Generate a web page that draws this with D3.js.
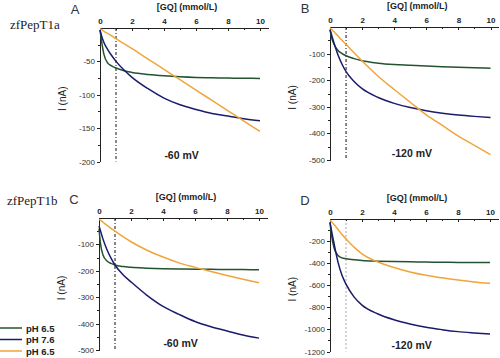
<!DOCTYPE html>
<html lang="en">
<head>
<meta charset="utf-8">
<title>zfPepT1 currents</title>
<script src="https://d3js.org/d3.v7.min.js"></script>
<style>
body { margin: 0; background: #fff; }
svg text { font-family: Arial, "Liberation Sans", sans-serif; }
svg text.serif { font-family: "Liberation Serif", "DejaVu Serif", serif; }
.xax text { font-size: 8px; font-weight: bold; fill: #222; }
.yax text { font-size: 8px; fill: #333; }
.axis path, .axis line { stroke: #222; shape-rendering: crispEdges; }
</style>
</head>
<body>
<svg width="500" height="358"></svg>
<script>
// GQ concentration grid (mmol/L), shared by all series
var conc = [0, 0.1, 0.25, 0.5, 0.75, 1, 1.5, 2, 3, 4, 5, 6, 7, 8, 9, 10];

// currents in nA
var aGreen  = [-3, -20, -40, -53, -57, -60, -64, -66.5, -69.5, -71.5, -73, -74, -74.5, -75, -75.3, -75.5];
var aBlue   = [-3, -12, -22, -33, -42, -50, -63, -74, -91, -105, -115, -122, -128, -132, -136, -139];
var aOrange = [-1, -2.5, -5, -8.5, -12, -16, -23.5, -31, -46.5, -62, -77.5, -93, -108.5, -124, -139.5, -155];

var bGreen  = [-10, -40, -65, -88, -100, -108, -119, -127, -136, -141, -144, -147, -149, -151, -153, -155];
var bBlue   = [-10, -30, -60, -105, -140, -168, -205, -232, -265, -287, -303, -315, -324, -331, -336, -340];
var bOrange = [-3, -9, -18, -34, -50, -65, -97, -128, -185, -235, -283, -330, -370, -410, -445, -480];

var cGreen  = [-40, -100, -140, -163, -172, -178, -184, -187, -190, -192, -193, -194, -194.5, -195, -195.5, -196];
var cBlue   = [-30, -50, -80, -120, -152, -178, -215, -242, -293, -335, -365, -392, -412, -428, -443, -455];
var cOrange = [-5, -9, -16, -28, -39, -50, -71, -90, -122, -148, -170, -187, -203, -218, -232, -245];

var dGreen  = [-30, -150, -260, -330, -352, -360, -370, -376, -382, -386, -388, -390, -392, -393, -394, -395];
var dBlue   = [-30, -110, -220, -390, -510, -590, -705, -780, -860, -912, -950, -980, -1002, -1020, -1032, -1042];
var dOrange = [-10, -25, -50, -95, -140, -180, -255, -315, -390, -440, -480, -510, -533, -553, -570, -583];

var xTicks = [0, 2, 4, 6, 8, 10];
var xMinor = [1, 3, 5, 7, 9];
var aTicks = [-50, -100, -150, -200];
var bTicks = [-100, -200, -300, -400, -500];
var cTicks = [-100, -200, -300, -400, -500];
var dTicks = [-200, -400, -600, -800, -1000, -1200];

var legendLabels = ["pH 6.5", "pH 7.6", "pH 6.5"];
var colors = ["#24532f", "#1b1b6b", "#f0a53a"];

var panels = [
  {letter: "A", series: [aGreen, aBlue, aOrange], ymin: -200, ticks: aTicks, step: 25,
   x0: 100, x1: 260, y0: 28, y1: 161.5, mv: "-60 mV", dash: "#111", dashArr: "3,2,1,2"},
  {letter: "B", series: [bGreen, bBlue, bOrange], ymin: -500, ticks: bTicks, step: 50,
   x0: 330, x1: 490.5, y0: 27, y1: 160, mv: "-120 mV", dash: "#111", dashArr: "3,2,1,2"},
  {letter: "C", series: [cGreen, cBlue, cOrange], ymin: -500, ticks: cTicks, step: 50,
   x0: 99, x1: 259, y0: 218, y1: 350, mv: "-60 mV", dash: "#111", dashArr: "3,2,1,2"},
  {letter: "D", series: [dGreen, dBlue, dOrange], ymin: -1200, ticks: dTicks, step: 100,
   x0: 330, x1: 490, y0: 219, y1: 351.5, mv: "-120 mV", dash: "#aaa", dashArr: "2,2"}
];

var svg = d3.select("svg");

panels.forEach(function(p) {
  // axis runs a little past 10
  var x = d3.scaleLinear().domain([0, 10.5]).range([p.x0, p.x0 + (p.x1 - p.x0) * 1.05]);
  var y = d3.scaleLinear().domain([0, p.ymin]).range([p.y0, p.y1]);

  var g = svg.append("g");

  // vertical line at 1 mmol/L
  g.append("line")
    .attr("x1", x(1)).attr("x2", x(1))
    .attr("y1", y(0)).attr("y2", y(p.ymin))
    .attr("stroke", p.dash)
    .attr("stroke-width", 1)
    .attr("stroke-dasharray", p.dashArr);

  var minorY = d3.range(-p.step, p.ymin - 1, -2 * p.step);

  g.append("g").attr("class", "axis yax")
    .attr("transform", "translate(" + x(0) + ",0)")
    .call(d3.axisLeft(y).tickValues(minorY).tickSize(2).tickFormat(""))
    .select(".domain").remove();

  g.append("g").attr("class", "axis yax")
    .attr("transform", "translate(" + x(0) + ",0)")
    .call(d3.axisLeft(y).tickValues(p.ticks).tickSize(3).tickSizeOuter(0).tickPadding(2)
      .tickFormat(function(d) { return String(d); }));

  g.append("g").attr("class", "axis xax")
    .attr("transform", "translate(0," + y(0) + ")")
    .call(d3.axisTop(x).tickValues(xMinor).tickSize(-2).tickFormat(""))
    .select(".domain").remove();

  g.append("g").attr("class", "axis xax")
    .attr("transform", "translate(0," + y(0) + ")")
    .call(d3.axisTop(x).tickValues(xTicks).tickSize(-3).tickSizeOuter(0).tickPadding(4));

  var line = d3.line()
    .x(function(d, i) { return x(conc[i]); })
    .y(function(d) { return y(d); })
    .curve(d3.curveMonotoneX);

  p.series.forEach(function(s, k) {
    g.append("path")
      .datum(s)
      .attr("fill", "none")
      .attr("stroke", colors[k])
      .attr("stroke-width", 1.5)
      .attr("d", line);
  });

  g.append("text")
    .attr("x", (p.x0 + p.x1) / 2 + 7)
    .attr("y", p.y0 - 18)
    .attr("text-anchor", "middle")
    .attr("font-size", "9px")
    .attr("font-weight", "bold")
    .attr("fill", "#222")
    .text("[GQ] (mmol/L)");

  g.append("text")
    .attr("x", p.x0 - 25)
    .attr("y", p.y0 - 14)
    .attr("text-anchor", "middle")
    .attr("font-size", "13px")
    .attr("fill", "#333")
    .text(p.letter);

  g.append("text")
    .attr("transform", "translate(" + (p.x0 - 34) + "," + ((p.y0 + p.y1) / 2 + 4) + ") rotate(-90)")
    .attr("text-anchor", "middle")
    .attr("font-size", "10px")
    .attr("fill", "#222")
    .text("I (nA)");

  g.append("text")
    .attr("x", x(5.1))
    .attr("y", p.y1 - 3)
    .attr("text-anchor", "middle")
    .attr("font-size", "10.5px")
    .attr("font-weight", "bold")
    .attr("fill", "#222")
    .text(p.mv);
});

svg.append("text")
  .attr("class", "serif")
  .attr("x", 10).attr("y", 29)
  .attr("font-size", "13px")
  .attr("fill", "#222")
  .text("zfPepT1a");

svg.append("text")
  .attr("class", "serif")
  .attr("x", 7).attr("y", 205)
  .attr("font-size", "13px")
  .attr("fill", "#222")
  .text("zfPepT1b");

var legend = svg.append("g");
legendLabels.forEach(function(lab, k) {
  var ly = 328 + k * 11.5;
  legend.append("line")
    .attr("x1", 0).attr("x2", 22)
    .attr("y1", ly).attr("y2", ly)
    .attr("stroke", colors[k])
    .attr("stroke-width", 1.5);
  legend.append("text")
    .attr("x", 26).attr("y", ly + 3.5)
    .attr("font-size", "9.5px")
    .attr("font-weight", "bold")
    .attr("fill", "#222")
    .text(lab);
});
</script>
</body>
</html>
